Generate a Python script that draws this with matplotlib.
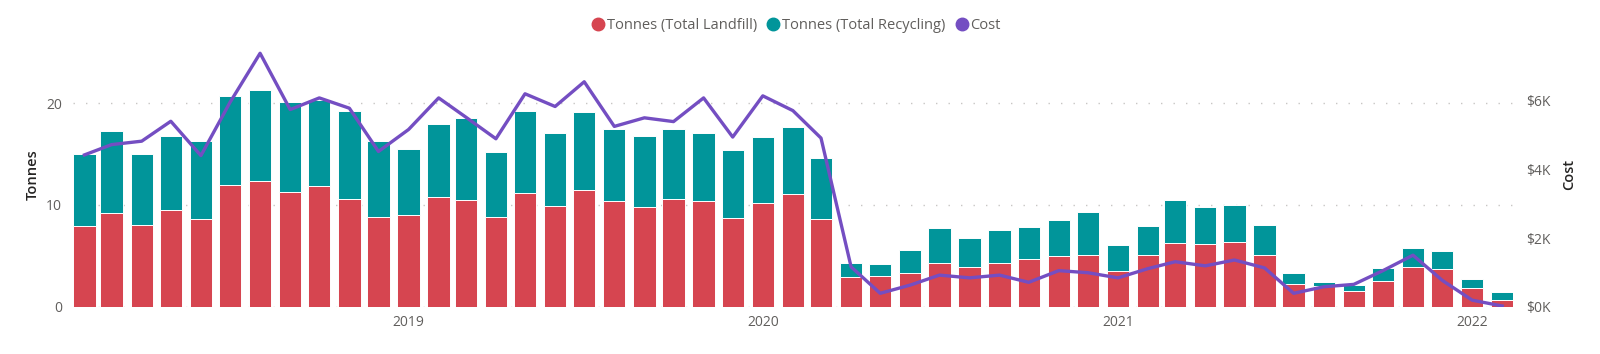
import pandas as pd
import matplotlib
matplotlib.use("Agg")
from matplotlib import pyplot as plt
from matplotlib.lines import Line2D
import matplotlib.dates as mdates

plt.rcParams['font.family'] = ['Open Sans', 'DejaVu Sans']

months = pd.date_range('2018-02-01', periods=49, freq='MS')

landfill = [7.97, 9.19, 8.04, 9.46, 8.67, 11.96, 12.36, 11.24, 11.86, 10.58,
            8.83, 9.0, 10.77, 10.48, 8.86, 11.17, 9.88, 11.43, 10.38, 9.85,
            10.61, 10.44, 8.76, 10.21, 11.07, 8.6, 2.9, 2.97, 3.36, 4.32,
            3.92, 4.32, 4.65, 5.01, 5.04, 3.53, 5.11, 6.26, 6.13, 6.36,
            5.11, 2.27, 2.08, 1.58, 2.57, 3.92, 3.72, 1.85, 0.69]

recycling = [7.09, 8.04, 7.02, 7.28, 7.67, 8.73, 8.96, 8.89, 8.47, 8.63,
             7.51, 6.55, 7.22, 8.04, 6.40, 8.11, 7.22, 7.75, 7.05, 6.89,
             6.89, 6.63, 6.63, 6.43, 6.62, 6.03, 1.42, 1.21, 2.18, 3.42,
             2.80, 3.26, 3.16, 3.56, 4.32, 2.50, 2.80, 4.25, 3.69, 3.66,
             2.89, 1.09, 0.39, 0.56, 1.22, 1.85, 1.75, 0.85, 0.73]

cost = [4420, 4720, 4820, 5400, 4400, 5950, 7380, 5740, 6080, 5780,
        4520, 5160, 6080, 5520, 4890, 6200, 5830, 6550, 5250, 5500,
        5390, 6080, 4940, 6140, 5710, 4910, 1160, 390, 630, 920,
        840, 920, 710, 1050, 990, 840, 1110, 1310, 1190, 1360,
        1130, 390, 580, 650, 1050, 1500, 770, 190, 20]

year_ticks = pd.to_datetime(['2019-01-01', '2020-01-01', '2021-01-01', '2022-01-01'])

red = '#D64550'
teal = '#01959A'
purple = '#744EC2'
grey = '#605E5C'

fig = plt.figure(figsize=(16, 3.54), dpi=100)
ax = fig.add_axes([0.0458, 0.1336, 0.9001, 0.747])

ax.bar(months, landfill, width=23, color=red, edgecolor='white', linewidth=0.7)
ax.bar(months, recycling, width=23, bottom=landfill, color=teal,
       edgecolor='white', linewidth=0.7)

ax.set_xlim(months[0] - pd.Timedelta(days=11.5), months[-1] + pd.Timedelta(days=11.5))
ax.set_ylim(0, 26)
ax.set_yticks([0, 10, 20])
ax.set_xticks(year_ticks)
ax.xaxis.set_major_formatter(mdates.DateFormatter('%Y'))
ax.grid(axis='y', color='#C8C6C4', linestyle=(0, (1, 8)), linewidth=1)
ax.set_axisbelow(True)
for s in ax.spines.values():
    s.set_visible(False)
ax.tick_params(length=0, colors=grey, labelsize=10)
ax.tick_params(axis='y', pad=8)
ax.tick_params(axis='x', pad=6)
ax.set_ylabel('Tonnes', fontsize=10.5, color='#252423', labelpad=4.5,
              fontweight='semibold')

ax2 = ax.twinx()
ax2.plot(months, cost, color=purple, linewidth=2.4, solid_joinstyle='round')
ax2.set_ylim(0, 7700)
ax2.set_yticks([0, 2000, 4000, 6000])
ax2.set_yticklabels(['$%dK' % (v // 1000) for v in [0, 2000, 4000, 6000]])
for s in ax2.spines.values():
    s.set_visible(False)
ax2.tick_params(length=0, colors=grey, labelsize=10, pad=9)
ax2.set_ylabel('Cost', fontsize=10.5, color='#252423', labelpad=8.5,
               fontweight='semibold')

handles = [
    Line2D([], [], marker='o', linestyle='', color=red, markersize=9),
    Line2D([], [], marker='o', linestyle='', color=teal, markersize=9),
    Line2D([], [], marker='o', linestyle='', color=purple, markersize=9),
]
fig.legend(handles, ['Tonnes (Total Landfill)', 'Tonnes (Total Recycling)', 'Cost'],
           loc='center', bbox_to_anchor=(0.497, 0.927), ncol=3, frameon=False,
           handletextpad=0.0, columnspacing=0.5, fontsize=10.5, labelcolor=grey,
           handlelength=1.2)

fig.savefig('out.png', dpi=100)
